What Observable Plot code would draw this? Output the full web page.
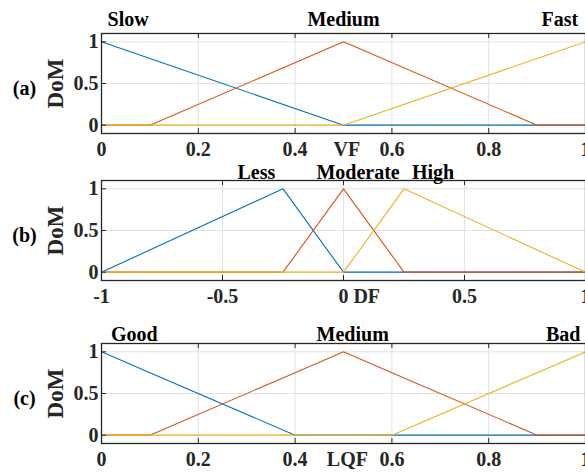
<!DOCTYPE html>
<html>
<head>
<meta charset="utf-8">
<script src="https://cdn.jsdelivr.net/npm/d3@7"></script>
<script src="https://cdn.jsdelivr.net/npm/@observablehq/plot@0.6"></script>
<style>
  html, body { margin: 0; padding: 0; background: #fff; }
  #chart { width: 585px; height: 472px; overflow: hidden; }
  #chart svg { display: block; }
</style>
</head>
<body>
<div id="chart"></div>
<script>
// ---- data ----
const seriesColors = ["#0072BD", "#D95319", "#EDB120"];
const yTicks = [0, 0.5, 1];

// (a) VF
const vfBreaks = [0, 0.1, 0.5, 0.9, 1];
const vfSlow   = [1, 0.8, 0, 0, 0];
const vfMedium = [0, 0, 1, 0, 0];
const vfFast   = [0, 0, 0, 0.8, 1];
const vfNames  = ["Slow", "Medium", "Fast"];
const vfNameX  = [0.055, 0.5, 0.947];
const vfTicks  = [0, 0.2, 0.4, 0.6, 0.8, 1];

// (b) DF
const dfBreaks   = [-1, -0.25, 0, 0.25, 1];
const dfLess     = [0, 1, 0, 0, 0];
const dfModerate = [0, 0, 1, 0, 0];
const dfHigh     = [0, 0, 0, 1, 0];
const dfNames    = ["Less", "Moderate", "High"];
const dfNameX    = [-0.36, 0.06, 0.37];
const dfTicks    = [-1, -0.5, 0, 0.5, 1];

// (c) LQF
const lqfBreaks = [0, 0.1, 0.4, 0.5, 0.6, 0.9, 1];
const lqfGood   = [1, 0.75, 0, 0, 0, 0, 0];
const lqfMedium = [0, 0, 0.75, 1, 0.75, 0, 0];
const lqfBad    = [0, 0, 0, 0, 0, 0.75, 1];
const lqfNames  = ["Good", "Medium", "Bad"];
const lqfNameX  = [0.068, 0.519, 0.954];
const lqfTicks  = [0, 0.2, 0.4, 0.6, 0.8, 1];

// ---- drawing ----
const W = 585, ML = 101, MR = 0, FRAME_H = 100;
const font = "'Liberation Serif', 'Times New Roman', serif";
const ink = "#262626";

function panel(cfg) {
  const rows = [];
  cfg.series.forEach((vals, i) => {
    vals.forEach((v, j) => rows.push({x: cfg.breaks[j], y: v, name: cfg.names[i]}));
  });
  const labels = cfg.names.map((n, i) => ({name: n, x: cfg.nameX[i]}));
  const frameW = W - ML - MR;
  return Plot.plot({
    width: W,
    height: cfg.marginTop + FRAME_H + cfg.marginBottom,
    marginTop: cfg.marginTop,
    marginBottom: cfg.marginBottom,
    marginLeft: ML,
    marginRight: MR,
    style: {fontFamily: font, fontSize: "20px", fontWeight: "bold", color: ink, background: "#fff", overflow: "visible"},
    x: {domain: cfg.domain, label: null},
    y: {domain: [-0.1, 1.1], label: null},
    color: {domain: cfg.names, range: seriesColors},
    marks: [
      Plot.gridX(cfg.ticks, {stroke: "#e2e2e2", strokeOpacity: 1}),
      Plot.gridY(yTicks, {stroke: "#e2e2e2", strokeOpacity: 1}),
      Plot.line(rows, {x: "x", y: "y", z: "name", stroke: "name", strokeWidth: 1.1}),
      Plot.frame({stroke: ink, strokeWidth: 1.3}),
      Plot.ruleX(cfg.ticks, {x: d => d, insetTop: FRAME_H - 5, stroke: ink}),
      Plot.ruleX(cfg.ticks, {x: d => d, insetBottom: FRAME_H - 5, stroke: ink}),
      Plot.ruleY(yTicks, {y: d => d, insetRight: frameW - 5, stroke: ink}),
      Plot.axisX(cfg.ticks, {label: null, tickSize: 0, tickPadding: 8, tickFormat: d => String(d), fontSize: 20, fontWeight: "bold", fill: ink}),
      Plot.axisY(yTicks, {label: null, tickSize: 0, tickPadding: 3, tickFormat: d => String(d), fontSize: 20, fontWeight: "bold", fill: ink}),
      Plot.text([cfg.axisLabel], {x: cfg.axisLabelX, frameAnchor: "bottom", lineAnchor: "top", dy: 8, fontSize: 20, fontWeight: "bold", fill: ink}),
      Plot.text(labels, {x: "x", text: "name", frameAnchor: "top", lineAnchor: "bottom", dy: cfg.nameDy, fontSize: 20, fontWeight: "bold", fill: "#000"}),
      Plot.text([cfg.tag], {frameAnchor: "left", dx: -77, dy: 5, textAnchor: "middle", fontSize: 20, fontWeight: "bold", fill: "#000"}),
      Plot.text(["DoM"], {frameAnchor: "left", dx: -46, rotate: -90, textAnchor: "middle", fontSize: 23, fontWeight: "bold", fill: ink})
    ]
  });
}

const chart = document.getElementById("chart");
chart.append(panel({
  tag: "(a)", marginTop: 33, marginBottom: 27, domain: [0, 1], ticks: vfTicks,
  breaks: vfBreaks, series: [vfSlow, vfMedium, vfFast], names: vfNames, nameX: vfNameX,
  nameDy: -8, axisLabel: "VF", axisLabelX: 0.507
}));
chart.append(panel({
  tag: "(b)", marginTop: 20, marginBottom: 30, domain: [-1, 1], ticks: dfTicks,
  breaks: dfBreaks, series: [dfLess, dfModerate, dfHigh], names: dfNames, nameX: dfNameX,
  nameDy: -2, axisLabel: "DF", axisLabelX: 0.096
}));
chart.append(panel({
  tag: "(c)", marginTop: 33, marginBottom: 29, domain: [0, 1], ticks: lqfTicks,
  breaks: lqfBreaks, series: [lqfGood, lqfMedium, lqfBad], names: lqfNames, nameX: lqfNameX,
  nameDy: -3, axisLabel: "LQF", axisLabelX: 0.508
}));
</script>
</body>
</html>
